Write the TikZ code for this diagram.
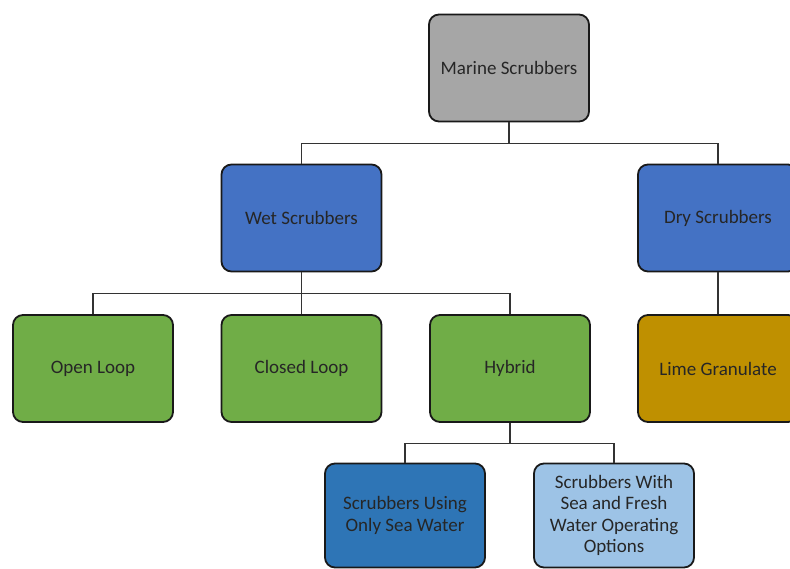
\documentclass[tikz,border=0pt]{standalone}
\usepackage{fontspec}
\setmainfont{Carlito}
\definecolor{rootgray}{RGB}{166,166,166}
\definecolor{wetblue}{RGB}{68,114,196}
\definecolor{loopgreen}{RGB}{112,173,71}
\definecolor{limegold}{RGB}{191,144,0}
\definecolor{seablue}{RGB}{46,117,182}
\definecolor{freshblue}{RGB}{157,195,230}
\begin{document}
\begin{tikzpicture}[x=1pt,y=-1pt,
  box/.style={draw=black!90,line width=1.8pt,rounded corners=10pt,
    minimum width=160pt,minimum height=107pt,inner sep=2pt,
    align=center,text=black!85,font=\fontsize{19}{21.5}\selectfont},
  lowbox/.style={box,minimum height=104pt},
  conn/.style={draw=black!80,line width=1.1pt}]
\useasboundingbox (0,0) rectangle (790,568);
\node[box,fill=rootgray] (root) at (509,68) {Marine Scrubbers};
\node[box,fill=wetblue] (wet) at (301.5,218) {Wet Scrubbers};
\node[box,fill=wetblue] (dry) at (718,218) {Dry Scrubbers};
\node[box,fill=loopgreen] (open) at (93,368.5) {Open Loop};
\node[box,fill=loopgreen] (closed) at (301.5,368.5) {Closed Loop};
\node[box,fill=loopgreen] (hybrid) at (510,368.5) {Hybrid};
\node[box,fill=limegold] (lime) at (718,368.5) {Lime Granulate};
\node[lowbox,fill=seablue] (seaonly) at (405,515.5) {Scrubbers Using\\Only Sea Water};
\node[lowbox,fill=freshblue] (seafresh) at (614,515.5) {Scrubbers With\\Sea and Fresh\\Water Operating\\Options};
% root level
\draw[conn] (root.south) -- ++(0,21) -| (wet.north);
\draw[conn] (root.south) -- ++(0,21) -| (dry.north);
% wet scrubbers
\draw[conn] (wet.south) -- ++(0,21) -| (open.north);
\draw[conn] (wet.south) -- (closed.north);
\draw[conn] (wet.south) -- ++(0,21) -| (hybrid.north);
% dry scrubbers
\draw[conn] (dry.south) -- (lime.north);
% hybrid
\draw[conn] (hybrid.south) -- ++(0,21) -| (seaonly.north);
\draw[conn] (hybrid.south) -- ++(0,21) -| (seafresh.north);
\end{tikzpicture}
\end{document}
